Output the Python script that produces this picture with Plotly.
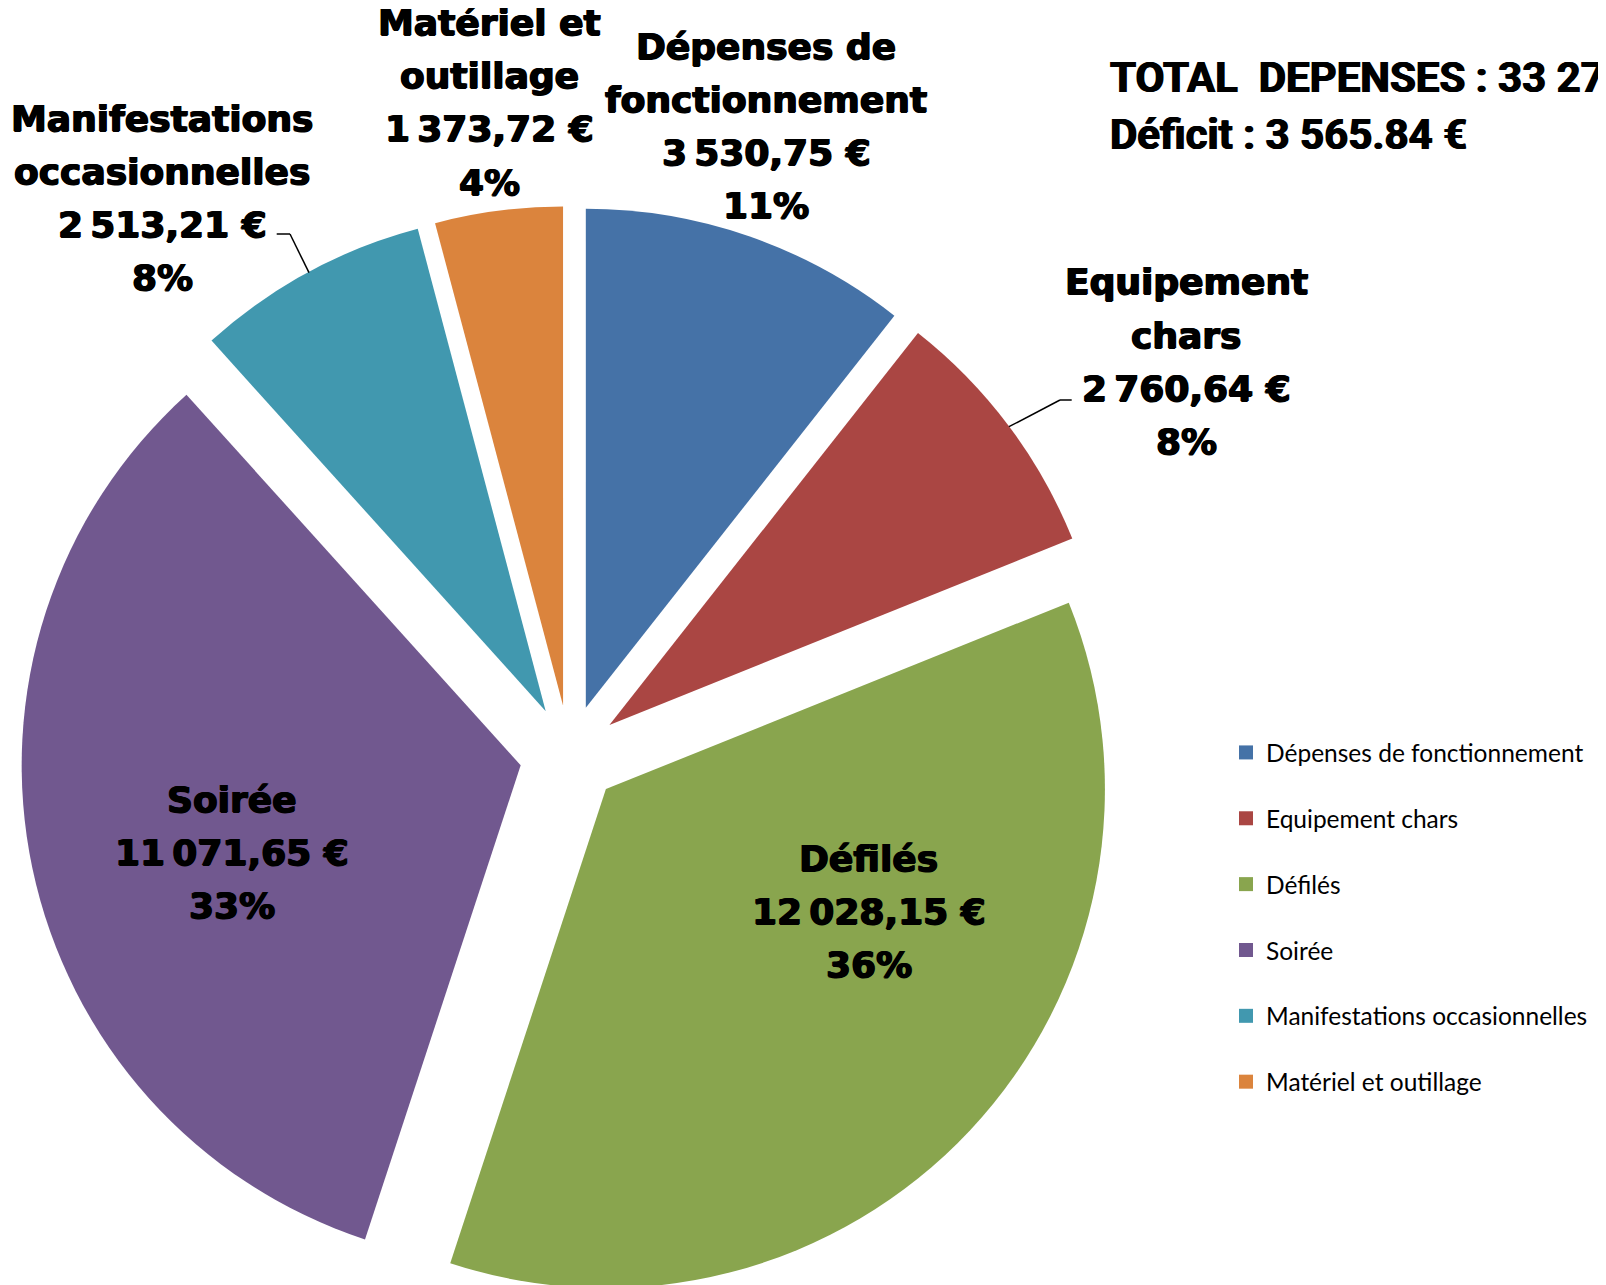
import plotly.graph_objects as go

# ---------------- data ----------------
categories = ["Dépenses de fonctionnement", "Equipement chars", "Défilés",
              "Soirée", "Manifestations occasionnelles", "Matériel et outillage"]
label_lines = [["Dépenses de", "fonctionnement"], ["Equipement", "chars"], ["Défilés"],
               ["Soirée"], ["Manifestations", "occasionnelles"], ["Matériel et", "outillage"]]
values = [3530.75, 2760.64, 12028.15, 11071.65, 2513.21, 1373.72]
deficit = 3565.84
colors = ["#4572A7", "#AA4643", "#89A54E", "#71588F", "#4198AF", "#DB843D"]

# ---------------- layout constants ----------------
# the page body has an 8px default margin: positions below are screen px
OFF = 8
W, H = 1606, 1340
def px(x):
    return (x - OFF) / W
def py(y):
    return 1 - (y - OFF) / H

def fr_money(v):
    s = f"{v:,.2f}"
    return s.replace(",", "\u202f").replace(".", ",") + " €"

total = sum(values)

# pie geometry (screen px)
cx, cy, r, pull = 569.5, 755, 499, 0.1
half = r * (1 + pull)

fig = go.Figure()
fig.add_trace(go.Pie(
    labels=categories, values=values, sort=False, direction="clockwise",
    rotation=0, pull=pull, textinfo="none", hoverinfo="label+value+percent",
    marker=dict(colors=colors, line=dict(width=0)),
    showlegend=False,
    domain=dict(x=[px(cx - half), px(cx + half)], y=[py(cy + half), py(cy - half)]),
))

# legend entries (one group each so spacing can be controlled)
for i, (c, col) in enumerate(zip(categories, colors)):
    fig.add_trace(go.Scatter(
        x=[None], y=[None], mode="markers", name=c, legendgroup=f"g{i}",
        marker=dict(symbol="square", size=14, color=col), showlegend=True,
        hoverinfo="skip"))

# label positions (centre x, first line y, in screen px)
label_pos = [(766, 46), (1186, 282), (868.5, 858), (231.5, 799), (162, 118), (489.6, 22.5)]
line_gap = 53.2

label_font = dict(family="DejaVu Sans", size=36, color="black", weight="bold",
                  shadow="0.8px 0 0 #000, -0.8px 0 0 #000, 0 0.6px 0 #000")
annotations = []
for lines, v, (lx, ly) in zip(label_lines, values, label_pos):
    pct = f"{round(v / total * 100)}%"
    all_lines = lines + [fr_money(v), pct]
    for k, t in enumerate(all_lines):
        annotations.append(dict(
            text=f"<b>{t}</b>", x=px(lx), y=py(ly + k * line_gap), xref="paper", yref="paper",
            xanchor="center", yanchor="middle", showarrow=False, font=label_font))

title_font = dict(family="Roboto, Liberation Sans, sans-serif", size=42, color="black",
                  weight=700, shadow="0.7px 0 0 #000, -0.7px 0 0 #000")
annotations.append(dict(
    text="<b>TOTAL\u00a0 DEPENSES : " + fr_money(total).replace("\u202f", " ") + "</b>",
    x=px(1108), y=py(77), xref="paper", yref="paper", xanchor="left", yanchor="middle",
    showarrow=False, font=title_font))
annotations.append(dict(
    text="<b>Déficit : " + f"{deficit:,.2f}".replace(",", " ") + " €</b>",
    x=px(1108), y=py(135), xref="paper", yref="paper", xanchor="left", yanchor="middle",
    showarrow=False, font=title_font))

# leader lines (screen px)
leaders = [[(276.7, 234), (290, 234), (309, 272.7)],
           [(1071.7, 400), (1060, 400), (1009, 426.7)]]
shapes = []
for pts in leaders:
    for (x0, y0), (x1, y1) in zip(pts[:-1], pts[1:]):
        shapes.append(dict(type="line", xref="paper", yref="paper",
                           x0=px(x0), y0=py(y0), x1=px(x1), y1=py(y1),
                           line=dict(color="black", width=1.5)))

fig.update_layout(
    width=W, height=H, margin=dict(l=0, r=0, t=0, b=0),
    paper_bgcolor="white", plot_bgcolor="white",
    xaxis=dict(visible=False), yaxis=dict(visible=False),
    annotations=annotations, shapes=shapes,
    legend=dict(x=px(1226), y=py(730), xanchor="left", yanchor="top",
                font=dict(family="Lato", size=24.5, color="black"),
                tracegroupgap=31, bgcolor="rgba(0,0,0,0)"),
)

fig.write_html("out.html")
